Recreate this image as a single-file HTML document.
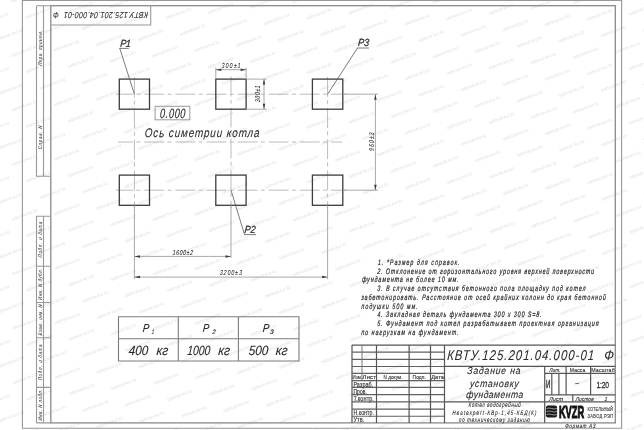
<!DOCTYPE html>
<html><head><meta charset="utf-8">
<style>
html,body{margin:0;padding:0;background:#fff;width:644px;height:430px;overflow:hidden}
svg{display:block;will-change:transform}
text{font-family:"Liberation Sans",sans-serif;font-style:italic;fill:#2a2a2a;stroke:#2a2a2a;stroke-width:0.08px}
.n{font-style:normal}
.th{stroke-width:0.12px}
.fr{stroke:#989898;stroke-width:1.1;fill:none}
.sq{stroke:#3c3c3c;stroke-width:1.3;fill:none}
.cl{stroke:#bbb;stroke-width:1;stroke-dasharray:19.9 3.3 4 3.9;fill:none}
.dm{stroke:#a8a8a8;stroke-width:1;fill:none}
.ld{stroke:#5a5a5a;stroke-width:0.8;fill:none}
.tb{stroke:#555;stroke-width:1.2;fill:none}
.ar{fill:#3a3a3a}
</style></head><body>
<svg width="644" height="430" viewBox="0 0 644 430">
<rect x="0" y="0" width="644" height="430" fill="#fff"/>

<defs><text id="wm" y="1.5" text-anchor="middle" style="font-size:4.3px;font-style:normal;fill:#e0e0e0;stroke:none" textLength="27" lengthAdjust="spacingAndGlyphs">tekhnob-kvz.kz</text></defs>
<g>
<use href="#wm" transform="translate(-16.4 438.0) rotate(-20.8)"/>
<use href="#wm" transform="translate(-16.6 383.5) rotate(-20.8)"/>
<use href="#wm" transform="translate(-2.5 399.9) rotate(-20.8)"/>
<use href="#wm" transform="translate(11.6 416.3) rotate(-20.8)"/>
<use href="#wm" transform="translate(25.7 432.7) rotate(-20.8)"/>
<use href="#wm" transform="translate(-16.8 328.9) rotate(-20.8)"/>
<use href="#wm" transform="translate(-2.7 345.4) rotate(-20.8)"/>
<use href="#wm" transform="translate(11.4 361.8) rotate(-20.8)"/>
<use href="#wm" transform="translate(25.5 378.2) rotate(-20.8)"/>
<use href="#wm" transform="translate(39.6 394.6) rotate(-20.8)"/>
<use href="#wm" transform="translate(53.7 411.0) rotate(-20.8)"/>
<use href="#wm" transform="translate(67.8 427.4) rotate(-20.8)"/>
<use href="#wm" transform="translate(-17.0 274.4) rotate(-20.8)"/>
<use href="#wm" transform="translate(-2.9 290.8) rotate(-20.8)"/>
<use href="#wm" transform="translate(11.2 307.2) rotate(-20.8)"/>
<use href="#wm" transform="translate(25.3 323.6) rotate(-20.8)"/>
<use href="#wm" transform="translate(39.4 340.0) rotate(-20.8)"/>
<use href="#wm" transform="translate(53.5 356.4) rotate(-20.8)"/>
<use href="#wm" transform="translate(67.6 372.9) rotate(-20.8)"/>
<use href="#wm" transform="translate(81.7 389.3) rotate(-20.8)"/>
<use href="#wm" transform="translate(95.8 405.7) rotate(-20.8)"/>
<use href="#wm" transform="translate(109.9 422.1) rotate(-20.8)"/>
<use href="#wm" transform="translate(124.0 438.5) rotate(-20.8)"/>
<use href="#wm" transform="translate(-17.2 219.9) rotate(-20.8)"/>
<use href="#wm" transform="translate(-3.1 236.3) rotate(-20.8)"/>
<use href="#wm" transform="translate(11.0 252.7) rotate(-20.8)"/>
<use href="#wm" transform="translate(25.1 269.1) rotate(-20.8)"/>
<use href="#wm" transform="translate(39.2 285.5) rotate(-20.8)"/>
<use href="#wm" transform="translate(53.3 301.9) rotate(-20.8)"/>
<use href="#wm" transform="translate(67.4 318.3) rotate(-20.8)"/>
<use href="#wm" transform="translate(81.5 334.7) rotate(-20.8)"/>
<use href="#wm" transform="translate(95.6 351.1) rotate(-20.8)"/>
<use href="#wm" transform="translate(109.7 367.6) rotate(-20.8)"/>
<use href="#wm" transform="translate(123.8 384.0) rotate(-20.8)"/>
<use href="#wm" transform="translate(137.9 400.4) rotate(-20.8)"/>
<use href="#wm" transform="translate(152.0 416.8) rotate(-20.8)"/>
<use href="#wm" transform="translate(166.1 433.2) rotate(-20.8)"/>
<use href="#wm" transform="translate(-17.4 165.3) rotate(-20.8)"/>
<use href="#wm" transform="translate(-3.3 181.7) rotate(-20.8)"/>
<use href="#wm" transform="translate(10.8 198.1) rotate(-20.8)"/>
<use href="#wm" transform="translate(24.9 214.6) rotate(-20.8)"/>
<use href="#wm" transform="translate(39.0 231.0) rotate(-20.8)"/>
<use href="#wm" transform="translate(53.1 247.4) rotate(-20.8)"/>
<use href="#wm" transform="translate(67.2 263.8) rotate(-20.8)"/>
<use href="#wm" transform="translate(81.3 280.2) rotate(-20.8)"/>
<use href="#wm" transform="translate(95.4 296.6) rotate(-20.8)"/>
<use href="#wm" transform="translate(109.5 313.0) rotate(-20.8)"/>
<use href="#wm" transform="translate(123.6 329.4) rotate(-20.8)"/>
<use href="#wm" transform="translate(137.7 345.8) rotate(-20.8)"/>
<use href="#wm" transform="translate(151.8 362.2) rotate(-20.8)"/>
<use href="#wm" transform="translate(165.9 378.7) rotate(-20.8)"/>
<use href="#wm" transform="translate(180.0 395.1) rotate(-20.8)"/>
<use href="#wm" transform="translate(194.1 411.5) rotate(-20.8)"/>
<use href="#wm" transform="translate(208.2 427.9) rotate(-20.8)"/>
<use href="#wm" transform="translate(-17.6 110.8) rotate(-20.8)"/>
<use href="#wm" transform="translate(-3.5 127.2) rotate(-20.8)"/>
<use href="#wm" transform="translate(10.6 143.6) rotate(-20.8)"/>
<use href="#wm" transform="translate(24.7 160.0) rotate(-20.8)"/>
<use href="#wm" transform="translate(38.8 176.4) rotate(-20.8)"/>
<use href="#wm" transform="translate(52.9 192.8) rotate(-20.8)"/>
<use href="#wm" transform="translate(67.0 209.2) rotate(-20.8)"/>
<use href="#wm" transform="translate(81.1 225.7) rotate(-20.8)"/>
<use href="#wm" transform="translate(95.2 242.1) rotate(-20.8)"/>
<use href="#wm" transform="translate(109.3 258.5) rotate(-20.8)"/>
<use href="#wm" transform="translate(123.4 274.9) rotate(-20.8)"/>
<use href="#wm" transform="translate(137.5 291.3) rotate(-20.8)"/>
<use href="#wm" transform="translate(151.6 307.7) rotate(-20.8)"/>
<use href="#wm" transform="translate(165.7 324.1) rotate(-20.8)"/>
<use href="#wm" transform="translate(179.8 340.5) rotate(-20.8)"/>
<use href="#wm" transform="translate(193.9 356.9) rotate(-20.8)"/>
<use href="#wm" transform="translate(208.0 373.3) rotate(-20.8)"/>
<use href="#wm" transform="translate(222.1 389.8) rotate(-20.8)"/>
<use href="#wm" transform="translate(236.2 406.2) rotate(-20.8)"/>
<use href="#wm" transform="translate(250.3 422.6) rotate(-20.8)"/>
<use href="#wm" transform="translate(264.4 439.0) rotate(-20.8)"/>
<use href="#wm" transform="translate(-17.8 56.2) rotate(-20.8)"/>
<use href="#wm" transform="translate(-3.7 72.7) rotate(-20.8)"/>
<use href="#wm" transform="translate(10.4 89.1) rotate(-20.8)"/>
<use href="#wm" transform="translate(24.5 105.5) rotate(-20.8)"/>
<use href="#wm" transform="translate(38.6 121.9) rotate(-20.8)"/>
<use href="#wm" transform="translate(52.7 138.3) rotate(-20.8)"/>
<use href="#wm" transform="translate(66.8 154.7) rotate(-20.8)"/>
<use href="#wm" transform="translate(80.9 171.1) rotate(-20.8)"/>
<use href="#wm" transform="translate(95.0 187.5) rotate(-20.8)"/>
<use href="#wm" transform="translate(109.1 203.9) rotate(-20.8)"/>
<use href="#wm" transform="translate(123.2 220.3) rotate(-20.8)"/>
<use href="#wm" transform="translate(137.3 236.8) rotate(-20.8)"/>
<use href="#wm" transform="translate(151.4 253.2) rotate(-20.8)"/>
<use href="#wm" transform="translate(165.5 269.6) rotate(-20.8)"/>
<use href="#wm" transform="translate(179.6 286.0) rotate(-20.8)"/>
<use href="#wm" transform="translate(193.7 302.4) rotate(-20.8)"/>
<use href="#wm" transform="translate(207.8 318.8) rotate(-20.8)"/>
<use href="#wm" transform="translate(221.9 335.2) rotate(-20.8)"/>
<use href="#wm" transform="translate(236.0 351.6) rotate(-20.8)"/>
<use href="#wm" transform="translate(250.1 368.0) rotate(-20.8)"/>
<use href="#wm" transform="translate(264.2 384.4) rotate(-20.8)"/>
<use href="#wm" transform="translate(278.3 400.9) rotate(-20.8)"/>
<use href="#wm" transform="translate(292.4 417.3) rotate(-20.8)"/>
<use href="#wm" transform="translate(306.5 433.7) rotate(-20.8)"/>
<use href="#wm" transform="translate(-18.1 1.7) rotate(-20.8)"/>
<use href="#wm" transform="translate(-4.0 18.1) rotate(-20.8)"/>
<use href="#wm" transform="translate(10.1 34.5) rotate(-20.8)"/>
<use href="#wm" transform="translate(24.2 50.9) rotate(-20.8)"/>
<use href="#wm" transform="translate(38.3 67.3) rotate(-20.8)"/>
<use href="#wm" transform="translate(52.4 83.8) rotate(-20.8)"/>
<use href="#wm" transform="translate(66.5 100.2) rotate(-20.8)"/>
<use href="#wm" transform="translate(80.6 116.6) rotate(-20.8)"/>
<use href="#wm" transform="translate(94.7 133.0) rotate(-20.8)"/>
<use href="#wm" transform="translate(108.8 149.4) rotate(-20.8)"/>
<use href="#wm" transform="translate(122.9 165.8) rotate(-20.8)"/>
<use href="#wm" transform="translate(137.0 182.2) rotate(-20.8)"/>
<use href="#wm" transform="translate(151.1 198.6) rotate(-20.8)"/>
<use href="#wm" transform="translate(165.2 215.0) rotate(-20.8)"/>
<use href="#wm" transform="translate(179.3 231.4) rotate(-20.8)"/>
<use href="#wm" transform="translate(193.4 247.9) rotate(-20.8)"/>
<use href="#wm" transform="translate(207.5 264.3) rotate(-20.8)"/>
<use href="#wm" transform="translate(221.6 280.7) rotate(-20.8)"/>
<use href="#wm" transform="translate(235.7 297.1) rotate(-20.8)"/>
<use href="#wm" transform="translate(249.8 313.5) rotate(-20.8)"/>
<use href="#wm" transform="translate(263.9 329.9) rotate(-20.8)"/>
<use href="#wm" transform="translate(278.0 346.3) rotate(-20.8)"/>
<use href="#wm" transform="translate(292.1 362.7) rotate(-20.8)"/>
<use href="#wm" transform="translate(306.2 379.1) rotate(-20.8)"/>
<use href="#wm" transform="translate(320.3 395.5) rotate(-20.8)"/>
<use href="#wm" transform="translate(334.4 412.0) rotate(-20.8)"/>
<use href="#wm" transform="translate(348.5 428.4) rotate(-20.8)"/>
<use href="#wm" transform="translate(24.0 -3.6) rotate(-20.8)"/>
<use href="#wm" transform="translate(38.1 12.8) rotate(-20.8)"/>
<use href="#wm" transform="translate(52.2 29.2) rotate(-20.8)"/>
<use href="#wm" transform="translate(66.3 45.6) rotate(-20.8)"/>
<use href="#wm" transform="translate(80.4 62.0) rotate(-20.8)"/>
<use href="#wm" transform="translate(94.5 78.4) rotate(-20.8)"/>
<use href="#wm" transform="translate(108.6 94.9) rotate(-20.8)"/>
<use href="#wm" transform="translate(122.7 111.3) rotate(-20.8)"/>
<use href="#wm" transform="translate(136.8 127.7) rotate(-20.8)"/>
<use href="#wm" transform="translate(150.9 144.1) rotate(-20.8)"/>
<use href="#wm" transform="translate(165.0 160.5) rotate(-20.8)"/>
<use href="#wm" transform="translate(179.1 176.9) rotate(-20.8)"/>
<use href="#wm" transform="translate(193.2 193.3) rotate(-20.8)"/>
<use href="#wm" transform="translate(207.3 209.7) rotate(-20.8)"/>
<use href="#wm" transform="translate(221.4 226.1) rotate(-20.8)"/>
<use href="#wm" transform="translate(235.5 242.5) rotate(-20.8)"/>
<use href="#wm" transform="translate(249.6 259.0) rotate(-20.8)"/>
<use href="#wm" transform="translate(263.7 275.4) rotate(-20.8)"/>
<use href="#wm" transform="translate(277.8 291.8) rotate(-20.8)"/>
<use href="#wm" transform="translate(291.9 308.2) rotate(-20.8)"/>
<use href="#wm" transform="translate(306.0 324.6) rotate(-20.8)"/>
<use href="#wm" transform="translate(320.1 341.0) rotate(-20.8)"/>
<use href="#wm" transform="translate(334.2 357.4) rotate(-20.8)"/>
<use href="#wm" transform="translate(348.3 373.8) rotate(-20.8)"/>
<use href="#wm" transform="translate(362.4 390.2) rotate(-20.8)"/>
<use href="#wm" transform="translate(376.5 406.6) rotate(-20.8)"/>
<use href="#wm" transform="translate(390.6 423.1) rotate(-20.8)"/>
<use href="#wm" transform="translate(404.7 439.5) rotate(-20.8)"/>
<use href="#wm" transform="translate(66.1 -8.9) rotate(-20.8)"/>
<use href="#wm" transform="translate(80.2 7.5) rotate(-20.8)"/>
<use href="#wm" transform="translate(94.3 23.9) rotate(-20.8)"/>
<use href="#wm" transform="translate(108.4 40.3) rotate(-20.8)"/>
<use href="#wm" transform="translate(122.5 56.7) rotate(-20.8)"/>
<use href="#wm" transform="translate(136.6 73.1) rotate(-20.8)"/>
<use href="#wm" transform="translate(150.7 89.5) rotate(-20.8)"/>
<use href="#wm" transform="translate(164.8 106.0) rotate(-20.8)"/>
<use href="#wm" transform="translate(178.9 122.4) rotate(-20.8)"/>
<use href="#wm" transform="translate(193.0 138.8) rotate(-20.8)"/>
<use href="#wm" transform="translate(207.1 155.2) rotate(-20.8)"/>
<use href="#wm" transform="translate(221.2 171.6) rotate(-20.8)"/>
<use href="#wm" transform="translate(235.3 188.0) rotate(-20.8)"/>
<use href="#wm" transform="translate(249.4 204.4) rotate(-20.8)"/>
<use href="#wm" transform="translate(263.5 220.8) rotate(-20.8)"/>
<use href="#wm" transform="translate(277.6 237.2) rotate(-20.8)"/>
<use href="#wm" transform="translate(291.7 253.6) rotate(-20.8)"/>
<use href="#wm" transform="translate(305.8 270.1) rotate(-20.8)"/>
<use href="#wm" transform="translate(319.9 286.5) rotate(-20.8)"/>
<use href="#wm" transform="translate(334.0 302.9) rotate(-20.8)"/>
<use href="#wm" transform="translate(348.1 319.3) rotate(-20.8)"/>
<use href="#wm" transform="translate(362.2 335.7) rotate(-20.8)"/>
<use href="#wm" transform="translate(376.3 352.1) rotate(-20.8)"/>
<use href="#wm" transform="translate(390.4 368.5) rotate(-20.8)"/>
<use href="#wm" transform="translate(404.5 384.9) rotate(-20.8)"/>
<use href="#wm" transform="translate(418.6 401.3) rotate(-20.8)"/>
<use href="#wm" transform="translate(432.7 417.7) rotate(-20.8)"/>
<use href="#wm" transform="translate(446.8 434.2) rotate(-20.8)"/>
<use href="#wm" transform="translate(122.3 2.2) rotate(-20.8)"/>
<use href="#wm" transform="translate(136.4 18.6) rotate(-20.8)"/>
<use href="#wm" transform="translate(150.5 35.0) rotate(-20.8)"/>
<use href="#wm" transform="translate(164.6 51.4) rotate(-20.8)"/>
<use href="#wm" transform="translate(178.7 67.8) rotate(-20.8)"/>
<use href="#wm" transform="translate(192.8 84.2) rotate(-20.8)"/>
<use href="#wm" transform="translate(206.9 100.6) rotate(-20.8)"/>
<use href="#wm" transform="translate(221.0 117.1) rotate(-20.8)"/>
<use href="#wm" transform="translate(235.1 133.5) rotate(-20.8)"/>
<use href="#wm" transform="translate(249.2 149.9) rotate(-20.8)"/>
<use href="#wm" transform="translate(263.3 166.3) rotate(-20.8)"/>
<use href="#wm" transform="translate(277.4 182.7) rotate(-20.8)"/>
<use href="#wm" transform="translate(291.5 199.1) rotate(-20.8)"/>
<use href="#wm" transform="translate(305.6 215.5) rotate(-20.8)"/>
<use href="#wm" transform="translate(319.7 231.9) rotate(-20.8)"/>
<use href="#wm" transform="translate(333.8 248.3) rotate(-20.8)"/>
<use href="#wm" transform="translate(347.9 264.7) rotate(-20.8)"/>
<use href="#wm" transform="translate(362.0 281.2) rotate(-20.8)"/>
<use href="#wm" transform="translate(376.1 297.6) rotate(-20.8)"/>
<use href="#wm" transform="translate(390.2 314.0) rotate(-20.8)"/>
<use href="#wm" transform="translate(404.3 330.4) rotate(-20.8)"/>
<use href="#wm" transform="translate(418.4 346.8) rotate(-20.8)"/>
<use href="#wm" transform="translate(432.5 363.2) rotate(-20.8)"/>
<use href="#wm" transform="translate(446.6 379.6) rotate(-20.8)"/>
<use href="#wm" transform="translate(460.7 396.0) rotate(-20.8)"/>
<use href="#wm" transform="translate(474.8 412.4) rotate(-20.8)"/>
<use href="#wm" transform="translate(488.9 428.8) rotate(-20.8)"/>
<use href="#wm" transform="translate(164.4 -3.1) rotate(-20.8)"/>
<use href="#wm" transform="translate(178.5 13.3) rotate(-20.8)"/>
<use href="#wm" transform="translate(192.6 29.7) rotate(-20.8)"/>
<use href="#wm" transform="translate(206.7 46.1) rotate(-20.8)"/>
<use href="#wm" transform="translate(220.8 62.5) rotate(-20.8)"/>
<use href="#wm" transform="translate(234.9 78.9) rotate(-20.8)"/>
<use href="#wm" transform="translate(249.0 95.3) rotate(-20.8)"/>
<use href="#wm" transform="translate(263.1 111.7) rotate(-20.8)"/>
<use href="#wm" transform="translate(277.2 128.2) rotate(-20.8)"/>
<use href="#wm" transform="translate(291.3 144.6) rotate(-20.8)"/>
<use href="#wm" transform="translate(305.4 161.0) rotate(-20.8)"/>
<use href="#wm" transform="translate(319.5 177.4) rotate(-20.8)"/>
<use href="#wm" transform="translate(333.6 193.8) rotate(-20.8)"/>
<use href="#wm" transform="translate(347.7 210.2) rotate(-20.8)"/>
<use href="#wm" transform="translate(361.8 226.6) rotate(-20.8)"/>
<use href="#wm" transform="translate(375.9 243.0) rotate(-20.8)"/>
<use href="#wm" transform="translate(390.0 259.4) rotate(-20.8)"/>
<use href="#wm" transform="translate(404.1 275.8) rotate(-20.8)"/>
<use href="#wm" transform="translate(418.2 292.2) rotate(-20.8)"/>
<use href="#wm" transform="translate(432.3 308.7) rotate(-20.8)"/>
<use href="#wm" transform="translate(446.4 325.1) rotate(-20.8)"/>
<use href="#wm" transform="translate(460.5 341.5) rotate(-20.8)"/>
<use href="#wm" transform="translate(474.6 357.9) rotate(-20.8)"/>
<use href="#wm" transform="translate(488.7 374.3) rotate(-20.8)"/>
<use href="#wm" transform="translate(502.8 390.7) rotate(-20.8)"/>
<use href="#wm" transform="translate(516.9 407.1) rotate(-20.8)"/>
<use href="#wm" transform="translate(531.0 423.5) rotate(-20.8)"/>
<use href="#wm" transform="translate(545.1 439.9) rotate(-20.8)"/>
<use href="#wm" transform="translate(206.5 -8.4) rotate(-20.8)"/>
<use href="#wm" transform="translate(220.6 8.0) rotate(-20.8)"/>
<use href="#wm" transform="translate(234.7 24.4) rotate(-20.8)"/>
<use href="#wm" transform="translate(248.8 40.8) rotate(-20.8)"/>
<use href="#wm" transform="translate(262.9 57.2) rotate(-20.8)"/>
<use href="#wm" transform="translate(277.0 73.6) rotate(-20.8)"/>
<use href="#wm" transform="translate(291.1 90.0) rotate(-20.8)"/>
<use href="#wm" transform="translate(305.2 106.4) rotate(-20.8)"/>
<use href="#wm" transform="translate(319.3 122.8) rotate(-20.8)"/>
<use href="#wm" transform="translate(333.4 139.2) rotate(-20.8)"/>
<use href="#wm" transform="translate(347.5 155.7) rotate(-20.8)"/>
<use href="#wm" transform="translate(361.6 172.1) rotate(-20.8)"/>
<use href="#wm" transform="translate(375.7 188.5) rotate(-20.8)"/>
<use href="#wm" transform="translate(389.8 204.9) rotate(-20.8)"/>
<use href="#wm" transform="translate(403.9 221.3) rotate(-20.8)"/>
<use href="#wm" transform="translate(418.0 237.7) rotate(-20.8)"/>
<use href="#wm" transform="translate(432.1 254.1) rotate(-20.8)"/>
<use href="#wm" transform="translate(446.2 270.5) rotate(-20.8)"/>
<use href="#wm" transform="translate(460.3 286.9) rotate(-20.8)"/>
<use href="#wm" transform="translate(474.4 303.4) rotate(-20.8)"/>
<use href="#wm" transform="translate(488.5 319.8) rotate(-20.8)"/>
<use href="#wm" transform="translate(502.6 336.2) rotate(-20.8)"/>
<use href="#wm" transform="translate(516.7 352.6) rotate(-20.8)"/>
<use href="#wm" transform="translate(530.8 369.0) rotate(-20.8)"/>
<use href="#wm" transform="translate(544.9 385.4) rotate(-20.8)"/>
<use href="#wm" transform="translate(559.0 401.8) rotate(-20.8)"/>
<use href="#wm" transform="translate(573.1 418.2) rotate(-20.8)"/>
<use href="#wm" transform="translate(587.2 434.6) rotate(-20.8)"/>
<use href="#wm" transform="translate(262.7 2.7) rotate(-20.8)"/>
<use href="#wm" transform="translate(276.8 19.1) rotate(-20.8)"/>
<use href="#wm" transform="translate(290.9 35.5) rotate(-20.8)"/>
<use href="#wm" transform="translate(305.0 51.9) rotate(-20.8)"/>
<use href="#wm" transform="translate(319.1 68.3) rotate(-20.8)"/>
<use href="#wm" transform="translate(333.2 84.7) rotate(-20.8)"/>
<use href="#wm" transform="translate(347.3 101.1) rotate(-20.8)"/>
<use href="#wm" transform="translate(361.4 117.5) rotate(-20.8)"/>
<use href="#wm" transform="translate(375.5 133.9) rotate(-20.8)"/>
<use href="#wm" transform="translate(389.6 150.4) rotate(-20.8)"/>
<use href="#wm" transform="translate(403.7 166.8) rotate(-20.8)"/>
<use href="#wm" transform="translate(417.8 183.2) rotate(-20.8)"/>
<use href="#wm" transform="translate(431.9 199.6) rotate(-20.8)"/>
<use href="#wm" transform="translate(446.0 216.0) rotate(-20.8)"/>
<use href="#wm" transform="translate(460.1 232.4) rotate(-20.8)"/>
<use href="#wm" transform="translate(474.2 248.8) rotate(-20.8)"/>
<use href="#wm" transform="translate(488.3 265.2) rotate(-20.8)"/>
<use href="#wm" transform="translate(502.4 281.6) rotate(-20.8)"/>
<use href="#wm" transform="translate(516.5 298.0) rotate(-20.8)"/>
<use href="#wm" transform="translate(530.6 314.5) rotate(-20.8)"/>
<use href="#wm" transform="translate(544.7 330.9) rotate(-20.8)"/>
<use href="#wm" transform="translate(558.8 347.3) rotate(-20.8)"/>
<use href="#wm" transform="translate(572.9 363.7) rotate(-20.8)"/>
<use href="#wm" transform="translate(587.0 380.1) rotate(-20.8)"/>
<use href="#wm" transform="translate(601.1 396.5) rotate(-20.8)"/>
<use href="#wm" transform="translate(615.2 412.9) rotate(-20.8)"/>
<use href="#wm" transform="translate(629.3 429.3) rotate(-20.8)"/>
<use href="#wm" transform="translate(304.8 -2.7) rotate(-20.8)"/>
<use href="#wm" transform="translate(318.9 13.8) rotate(-20.8)"/>
<use href="#wm" transform="translate(333.0 30.2) rotate(-20.8)"/>
<use href="#wm" transform="translate(347.1 46.6) rotate(-20.8)"/>
<use href="#wm" transform="translate(361.2 63.0) rotate(-20.8)"/>
<use href="#wm" transform="translate(375.3 79.4) rotate(-20.8)"/>
<use href="#wm" transform="translate(389.4 95.8) rotate(-20.8)"/>
<use href="#wm" transform="translate(403.5 112.2) rotate(-20.8)"/>
<use href="#wm" transform="translate(417.6 128.6) rotate(-20.8)"/>
<use href="#wm" transform="translate(431.7 145.0) rotate(-20.8)"/>
<use href="#wm" transform="translate(445.8 161.4) rotate(-20.8)"/>
<use href="#wm" transform="translate(459.9 177.9) rotate(-20.8)"/>
<use href="#wm" transform="translate(474.0 194.3) rotate(-20.8)"/>
<use href="#wm" transform="translate(488.1 210.7) rotate(-20.8)"/>
<use href="#wm" transform="translate(502.2 227.1) rotate(-20.8)"/>
<use href="#wm" transform="translate(516.3 243.5) rotate(-20.8)"/>
<use href="#wm" transform="translate(530.4 259.9) rotate(-20.8)"/>
<use href="#wm" transform="translate(544.5 276.3) rotate(-20.8)"/>
<use href="#wm" transform="translate(558.6 292.7) rotate(-20.8)"/>
<use href="#wm" transform="translate(572.7 309.1) rotate(-20.8)"/>
<use href="#wm" transform="translate(586.8 325.6) rotate(-20.8)"/>
<use href="#wm" transform="translate(600.9 342.0) rotate(-20.8)"/>
<use href="#wm" transform="translate(615.0 358.4) rotate(-20.8)"/>
<use href="#wm" transform="translate(629.1 374.8) rotate(-20.8)"/>
<use href="#wm" transform="translate(643.2 391.2) rotate(-20.8)"/>
<use href="#wm" transform="translate(657.3 407.6) rotate(-20.8)"/>
<use href="#wm" transform="translate(346.9 -8.0) rotate(-20.8)"/>
<use href="#wm" transform="translate(361.0 8.4) rotate(-20.8)"/>
<use href="#wm" transform="translate(375.1 24.9) rotate(-20.8)"/>
<use href="#wm" transform="translate(389.2 41.3) rotate(-20.8)"/>
<use href="#wm" transform="translate(403.3 57.7) rotate(-20.8)"/>
<use href="#wm" transform="translate(417.4 74.1) rotate(-20.8)"/>
<use href="#wm" transform="translate(431.5 90.5) rotate(-20.8)"/>
<use href="#wm" transform="translate(445.6 106.9) rotate(-20.8)"/>
<use href="#wm" transform="translate(459.7 123.3) rotate(-20.8)"/>
<use href="#wm" transform="translate(473.8 139.7) rotate(-20.8)"/>
<use href="#wm" transform="translate(487.9 156.1) rotate(-20.8)"/>
<use href="#wm" transform="translate(502.0 172.6) rotate(-20.8)"/>
<use href="#wm" transform="translate(516.1 189.0) rotate(-20.8)"/>
<use href="#wm" transform="translate(530.2 205.4) rotate(-20.8)"/>
<use href="#wm" transform="translate(544.3 221.8) rotate(-20.8)"/>
<use href="#wm" transform="translate(558.4 238.2) rotate(-20.8)"/>
<use href="#wm" transform="translate(572.5 254.6) rotate(-20.8)"/>
<use href="#wm" transform="translate(586.6 271.0) rotate(-20.8)"/>
<use href="#wm" transform="translate(600.7 287.4) rotate(-20.8)"/>
<use href="#wm" transform="translate(614.8 303.8) rotate(-20.8)"/>
<use href="#wm" transform="translate(628.9 320.2) rotate(-20.8)"/>
<use href="#wm" transform="translate(643.0 336.6) rotate(-20.8)"/>
<use href="#wm" transform="translate(657.1 353.1) rotate(-20.8)"/>
<use href="#wm" transform="translate(403.1 3.1) rotate(-20.8)"/>
<use href="#wm" transform="translate(417.2 19.6) rotate(-20.8)"/>
<use href="#wm" transform="translate(431.3 36.0) rotate(-20.8)"/>
<use href="#wm" transform="translate(445.4 52.4) rotate(-20.8)"/>
<use href="#wm" transform="translate(459.5 68.8) rotate(-20.8)"/>
<use href="#wm" transform="translate(473.6 85.2) rotate(-20.8)"/>
<use href="#wm" transform="translate(487.7 101.6) rotate(-20.8)"/>
<use href="#wm" transform="translate(501.8 118.0) rotate(-20.8)"/>
<use href="#wm" transform="translate(515.9 134.4) rotate(-20.8)"/>
<use href="#wm" transform="translate(530.0 150.8) rotate(-20.8)"/>
<use href="#wm" transform="translate(544.1 167.2) rotate(-20.8)"/>
<use href="#wm" transform="translate(558.2 183.7) rotate(-20.8)"/>
<use href="#wm" transform="translate(572.3 200.1) rotate(-20.8)"/>
<use href="#wm" transform="translate(586.4 216.5) rotate(-20.8)"/>
<use href="#wm" transform="translate(600.5 232.9) rotate(-20.8)"/>
<use href="#wm" transform="translate(614.6 249.3) rotate(-20.8)"/>
<use href="#wm" transform="translate(628.7 265.7) rotate(-20.8)"/>
<use href="#wm" transform="translate(642.8 282.1) rotate(-20.8)"/>
<use href="#wm" transform="translate(656.9 298.5) rotate(-20.8)"/>
<use href="#wm" transform="translate(445.2 -2.2) rotate(-20.8)"/>
<use href="#wm" transform="translate(459.2 14.2) rotate(-20.8)"/>
<use href="#wm" transform="translate(473.4 30.7) rotate(-20.8)"/>
<use href="#wm" transform="translate(487.5 47.1) rotate(-20.8)"/>
<use href="#wm" transform="translate(501.6 63.5) rotate(-20.8)"/>
<use href="#wm" transform="translate(515.6 79.9) rotate(-20.8)"/>
<use href="#wm" transform="translate(529.8 96.3) rotate(-20.8)"/>
<use href="#wm" transform="translate(543.9 112.7) rotate(-20.8)"/>
<use href="#wm" transform="translate(558.0 129.1) rotate(-20.8)"/>
<use href="#wm" transform="translate(572.1 145.5) rotate(-20.8)"/>
<use href="#wm" transform="translate(586.1 161.9) rotate(-20.8)"/>
<use href="#wm" transform="translate(600.2 178.3) rotate(-20.8)"/>
<use href="#wm" transform="translate(614.4 194.8) rotate(-20.8)"/>
<use href="#wm" transform="translate(628.5 211.2) rotate(-20.8)"/>
<use href="#wm" transform="translate(642.6 227.6) rotate(-20.8)"/>
<use href="#wm" transform="translate(656.6 244.0) rotate(-20.8)"/>
<use href="#wm" transform="translate(487.2 -7.5) rotate(-20.8)"/>
<use href="#wm" transform="translate(501.3 8.9) rotate(-20.8)"/>
<use href="#wm" transform="translate(515.4 25.3) rotate(-20.8)"/>
<use href="#wm" transform="translate(529.5 41.8) rotate(-20.8)"/>
<use href="#wm" transform="translate(543.6 58.2) rotate(-20.8)"/>
<use href="#wm" transform="translate(557.7 74.6) rotate(-20.8)"/>
<use href="#wm" transform="translate(571.8 91.0) rotate(-20.8)"/>
<use href="#wm" transform="translate(585.9 107.4) rotate(-20.8)"/>
<use href="#wm" transform="translate(600.0 123.8) rotate(-20.8)"/>
<use href="#wm" transform="translate(614.1 140.2) rotate(-20.8)"/>
<use href="#wm" transform="translate(628.2 156.6) rotate(-20.8)"/>
<use href="#wm" transform="translate(642.3 173.0) rotate(-20.8)"/>
<use href="#wm" transform="translate(656.4 189.4) rotate(-20.8)"/>
<use href="#wm" transform="translate(543.4 3.6) rotate(-20.8)"/>
<use href="#wm" transform="translate(557.5 20.0) rotate(-20.8)"/>
<use href="#wm" transform="translate(571.6 36.4) rotate(-20.8)"/>
<use href="#wm" transform="translate(585.7 52.9) rotate(-20.8)"/>
<use href="#wm" transform="translate(599.8 69.3) rotate(-20.8)"/>
<use href="#wm" transform="translate(613.9 85.7) rotate(-20.8)"/>
<use href="#wm" transform="translate(628.0 102.1) rotate(-20.8)"/>
<use href="#wm" transform="translate(642.1 118.5) rotate(-20.8)"/>
<use href="#wm" transform="translate(656.2 134.9) rotate(-20.8)"/>
<use href="#wm" transform="translate(585.5 -1.7) rotate(-20.8)"/>
<use href="#wm" transform="translate(599.6 14.7) rotate(-20.8)"/>
<use href="#wm" transform="translate(613.7 31.1) rotate(-20.8)"/>
<use href="#wm" transform="translate(627.8 47.5) rotate(-20.8)"/>
<use href="#wm" transform="translate(641.9 64.0) rotate(-20.8)"/>
<use href="#wm" transform="translate(656.0 80.4) rotate(-20.8)"/>
<use href="#wm" transform="translate(627.6 -7.0) rotate(-20.8)"/>
<use href="#wm" transform="translate(641.7 9.4) rotate(-20.8)"/>
<use href="#wm" transform="translate(655.8 25.8) rotate(-20.8)"/>
</g>
<path class="fr" d="M22.4 0.4H621.6M22.4 0V428.3H621.6V0"/>
<rect class="fr" x="50.8" y="5.7" width="564.5" height="417.2" style="stroke:#8a8a8a;stroke-width:1.3"/>
<path class="fr" d="M36.5 5.7V176.3H50.8M43.5 5.7V176.3M36.5 5.7H50.8"/>
<path class="fr" d="M50.8 216.3H36.5V422.9M43.5 216.3V422.9M36.5 266.3H50.8M36.5 302.5H50.8M36.5 337.7H50.8M36.5 387.4H50.8M36.5 422.9H50.8"/>
<text transform="translate(41.70 65.80) rotate(-90) scale(0.8 1) skewX(-5)" style="font-size:5.2px;fill:#333;stroke:#333;stroke-width:0.05px" class="th" textLength="43.75" lengthAdjust="spacing">Перв. примен.</text>
<text transform="translate(41.70 149.30) rotate(-90) scale(0.8 1) skewX(-5)" style="font-size:5.2px;fill:#333;stroke:#333;stroke-width:0.05px" class="th" textLength="29.50" lengthAdjust="spacing">Справ. N</text>
<text transform="translate(41.70 257.45) rotate(-90) scale(0.8 1) skewX(-5)" style="font-size:5.2px;fill:#333;stroke:#333;stroke-width:0.05px" class="th" textLength="44.38" lengthAdjust="spacing">Подп. и дата</text>
<text transform="translate(41.70 299.90) rotate(-90) scale(0.8 1) skewX(-5)" style="font-size:5.2px;fill:#333;stroke:#333;stroke-width:0.05px" class="th" textLength="38.75" lengthAdjust="spacing">Инв. N дубл.</text>
<text transform="translate(41.70 335.60) rotate(-90) scale(0.8 1) skewX(-5)" style="font-size:5.2px;fill:#333;stroke:#333;stroke-width:0.05px" class="th" textLength="38.75" lengthAdjust="spacing">Взам. инв. N</text>
<text transform="translate(41.70 380.25) rotate(-90) scale(0.8 1) skewX(-5)" style="font-size:5.2px;fill:#333;stroke:#333;stroke-width:0.05px" class="th" textLength="44.38" lengthAdjust="spacing">Подп. и дата</text>
<text transform="translate(41.70 420.60) rotate(-90) scale(0.8 1) skewX(-5)" style="font-size:5.2px;fill:#333;stroke:#333;stroke-width:0.05px" class="th" textLength="38.75" lengthAdjust="spacing">Инв. N подл.</text>
<path class="fr" d="M50.8 25H150.7V5.7"/>
<g transform="rotate(180 101 15.35)">
<text transform="translate(53.80 18.40) scale(0.8 1) skewX(-5)" style="font-size:8.8px;" textLength="105.25" lengthAdjust="spacing">КВТУ.125.201.04.000-01</text>
<text transform="translate(143.10 18.40) scale(0.8 1) skewX(-5)" style="font-size:8.8px;">Ф</text>
</g>
<path class="cl" d="M116 94.2H346M116 190.2H346" style="stroke-dashoffset:2.8"/>
<path class="cl" d="M118.1 142H342" style="stroke-dashoffset:4.9"/>
<path class="cl" d="M134.4 77.4V208M231 76.5V208M327.6 77V208"/>
<g class="sq">
<rect x="119.3" y="79.1" width="30.2" height="30.1"/>
<rect x="215.8" y="79.1" width="30.3" height="30.1"/>
<rect x="312.4" y="79.1" width="30.4" height="30.1"/>
<rect x="119.3" y="175.1" width="30.2" height="30.2"/>
<rect x="215.8" y="175.1" width="30.3" height="30.2"/>
<rect x="312.4" y="175.1" width="30.4" height="30.2"/>
</g>
<g class="dm">
<path d="M215.8 79V67.5M246.1 79V67.5M215.8 69.7H246.1"/>
<path d="M246.1 79.1H266.5M246.1 109.2H266.5M264 79.1V109.2"/>
<path d="M342.8 94.2H378M342.8 190.2H378M375.4 94.2V190.2"/>
<path d="M134.4 205.3V279M231 205.3V258M327.6 205.3V279M134.4 256.4H231M134.4 277.1H327.6"/>
</g>
<g class="ar">
<path d="M215.8 69.7l5.5 -1.25v2.5zM246.1 69.7l-5.5 -1.25v2.5z"/>
<path d="M264 79.1l-1.25 5.5h2.5zM264 109.2l-1.25 -5.5h2.5z"/>
<path d="M375.4 94.2l-1.25 5.5h2.5zM375.4 190.2l-1.25 -5.5h2.5z"/>
<path d="M134.4 256.4l5.5 -1.25v2.5zM231 256.4l-5.5 -1.25v2.5z"/>
<path d="M134.4 277.1l5.5 -1.25v2.5zM327.6 277.1l-5.5 -1.25v2.5z"/>
</g>
<text transform="translate(221.60 67.90) scale(0.72 1) skewX(-5)" style="font-size:7.2px;" textLength="26.25" lengthAdjust="spacing">300±1</text>
<text transform="translate(260.40 102.20) rotate(-90) scale(0.72 1) skewX(-5)" style="font-size:7.2px;" textLength="23.19" lengthAdjust="spacing">300±1</text>
<text transform="translate(373.50 150.90) rotate(-90) scale(0.72 1) skewX(-5)" style="font-size:7.2px;" textLength="25.42" lengthAdjust="spacing">960±3</text>
<text transform="translate(172.50 254.50) scale(0.72 1) skewX(-5)" style="font-size:7.2px;" textLength="28.47" lengthAdjust="spacing">1600±2</text>
<text transform="translate(219.70 274.80) scale(0.72 1) skewX(-5)" style="font-size:7.2px;" textLength="30.69" lengthAdjust="spacing">3200±3</text>
<path class="ld" d="M119.3 48.4H128.8M119.8 48.4L134.4 94.2"/>
<path class="ld" d="M357 48H369M357.5 48L327.6 94.2"/>
<path class="ld" d="M244 234.6H256M244.5 234.6L231 190.2"/>
<text transform="translate(119.90 46.50) scale(0.9 1) skewX(-5)" style="font-size:10.4px;stroke-width:0.2px" textLength="12.11" lengthAdjust="spacing">P1</text>
<text transform="translate(357.70 46.20) scale(0.9 1) skewX(-5)" style="font-size:10.4px;stroke-width:0.2px" textLength="12.44" lengthAdjust="spacing">P3</text>
<text transform="translate(244.30 232.70) scale(0.9 1) skewX(-5)" style="font-size:10.4px;stroke-width:0.2px" textLength="12.44" lengthAdjust="spacing">P2</text>
<rect x="155.1" y="106.3" width="34.7" height="13.5" fill="none" stroke="#9a9a9a" stroke-width="1"/>
<text transform="translate(159.80 117.60) scale(0.68 1) skewX(-5)" style="font-size:13.4px;stroke-width:0.15px" textLength="37.35" lengthAdjust="spacing">0.000</text>
<text transform="translate(144.50 136.90) scale(0.8 1) skewX(-5)" style="font-size:12.4px;stroke-width:0.08px" textLength="143.50" lengthAdjust="spacing">Ось  симетрии  котла</text>
<text transform="translate(377.70 265.10) scale(0.66 1) skewX(-5)" style="font-size:8.0px;stroke-width:0.2px;fill:#222;stroke:#222" textLength="123.94" lengthAdjust="spacing">1.  *Размер для справок.</text>
<text transform="translate(377.20 273.79) scale(0.66 1) skewX(-5)" style="font-size:8.0px;stroke-width:0.2px;fill:#222;stroke:#222" textLength="328.48" lengthAdjust="spacing">2.  Отклонение от горизонтального уровня верхней поверхности</text>
<text transform="translate(361.90 282.48) scale(0.66 1) skewX(-5)" style="font-size:8.0px;stroke-width:0.2px;fill:#222;stroke:#222" textLength="146.36" lengthAdjust="spacing">фундамента не более  10  мм.</text>
<text transform="translate(377.20 291.17) scale(0.66 1) skewX(-5)" style="font-size:8.0px;stroke-width:0.2px;fill:#222;stroke:#222" textLength="315.45" lengthAdjust="spacing">3.  В случае отсутствия бетонного пола площадку под котел</text>
<text transform="translate(361.20 299.86) scale(0.66 1) skewX(-5)" style="font-size:8.0px;stroke-width:0.2px;fill:#222;stroke:#222" textLength="370.30" lengthAdjust="spacing">забетонировать. Расстояние от осей крайних колонн до края бетонной</text>
<text transform="translate(361.20 308.55) scale(0.66 1) skewX(-5)" style="font-size:8.0px;stroke-width:0.2px;fill:#222;stroke:#222" textLength="85.45" lengthAdjust="spacing">подушки 500  мм.</text>
<text transform="translate(377.20 317.24) scale(0.66 1) skewX(-5)" style="font-size:8.0px;stroke-width:0.2px;fill:#222;stroke:#222" textLength="248.94" lengthAdjust="spacing">4.  Закладная деталь фундамента  300 x 300  S=8.</text>
<text transform="translate(377.20 325.93) scale(0.66 1) skewX(-5)" style="font-size:8.0px;stroke-width:0.2px;fill:#222;stroke:#222" textLength="335.30" lengthAdjust="spacing">5.  Фундамент под котел разрабатывает проектная организация</text>
<text transform="translate(361.20 334.62) scale(0.66 1) skewX(-5)" style="font-size:8.0px;stroke-width:0.2px;fill:#222;stroke:#222" textLength="147.42" lengthAdjust="spacing">по нагрузкам на фундамент.</text>
<path class="tb" style="stroke:#7c7c7c;stroke-width:1.1" d="M118.5 316.7H299V361H118.5ZM118.5 338.7H299M178.3 316.7V361M238.4 316.7V361"/>
<text transform="translate(142.60 331.70) scale(0.85 1) skewX(-5)" style="font-size:11.6px;stroke-width:0.1px" textLength="7.88" lengthAdjust="spacing">P</text>
<text transform="translate(151.40 333.60) scale(0.85 1) skewX(-5)" style="font-size:6.4px;" textLength="3.06" lengthAdjust="spacingAndGlyphs">1</text>
<text transform="translate(202.40 331.70) scale(0.85 1) skewX(-5)" style="font-size:11.6px;stroke-width:0.1px" textLength="7.88" lengthAdjust="spacing">P</text>
<text transform="translate(212.20 333.60) scale(0.85 1) skewX(-5)" style="font-size:6.4px;" textLength="4.00" lengthAdjust="spacingAndGlyphs">2</text>
<text transform="translate(262.50 331.70) scale(0.85 1) skewX(-5)" style="font-size:11.6px;stroke-width:0.1px" textLength="7.88" lengthAdjust="spacing">P</text>
<text transform="translate(269.60 333.60) scale(0.85 1) skewX(-5)" style="font-size:6.4px;" textLength="4.82" lengthAdjust="spacingAndGlyphs">3</text>
<text transform="translate(128.60 355.40) scale(0.8 1) skewX(-5)" style="font-size:13.4px;stroke-width:0.1px" textLength="24.25" lengthAdjust="spacingAndGlyphs">400</text>
<text transform="translate(156.20 355.40) scale(0.8 1) skewX(-5)" style="font-size:13.4px;stroke-width:0.1px" textLength="14.75" lengthAdjust="spacingAndGlyphs">кг</text>
<text transform="translate(187.00 355.40) scale(0.8 1) skewX(-5)" style="font-size:13.4px;stroke-width:0.1px" textLength="28.75" lengthAdjust="spacingAndGlyphs">1000</text>
<text transform="translate(218.00 355.40) scale(0.8 1) skewX(-5)" style="font-size:13.4px;stroke-width:0.1px" textLength="15.00" lengthAdjust="spacingAndGlyphs">кг</text>
<text transform="translate(248.60 355.40) scale(0.8 1) skewX(-5)" style="font-size:13.4px;stroke-width:0.1px" textLength="24.38" lengthAdjust="spacingAndGlyphs">500</text>
<text transform="translate(275.40 355.40) scale(0.8 1) skewX(-5)" style="font-size:13.4px;stroke-width:0.1px" textLength="15.00" lengthAdjust="spacingAndGlyphs">кг</text>
<g class="tb">
<path d="M352 345.1H615.3M352 345.1V422.9"/>
<path style="stroke:#606060;stroke-width:1.1" d="M352 352.1H444.8M352 359.4H444.8M352 366.5H444.8M352 373.4H444.8M352 380.6H444.8M352 387.4H444.8M352 394.6H444.8M352 401.9H444.8M352 409.1H444.8M352 416.3H444.8"/>
<path style="stroke:#777;stroke-width:1" d="M362 345.1V380.6"/><path d="M376.5 345.1V422.9M409.1 345.1V422.9M430.5 345.1V422.9M444.5 345.1V422.9"/>
<path d="M444.8 366.4H615.3M544.7 366.4V422.9M544.7 373.3H615.3M551.8 373.3V394.8M558.9 373.3V394.8M566.1 366.4V394.8M590.6 366.4V394.8M544.7 394.8H615.3M444.8 401.9H615.3M572.8 394.8V401.9"/>
</g>
<text transform="translate(352.40 379.40) scale(0.739 1)" style="font-size:6.0px;fill:#2a2a2a;stroke:#2a2a2a" class="n th" textLength="13.26" lengthAdjust="spacing">Изм.</text>
<text transform="translate(362.60 379.40) scale(0.997 1)" style="font-size:6.0px;fill:#2a2a2a;stroke:#2a2a2a" class="n th" textLength="13.44" lengthAdjust="spacing">Лист</text>
<text transform="translate(383.50 379.40) scale(0.76 1)" style="font-size:6.0px;fill:#2a2a2a;stroke:#2a2a2a" class="n th" textLength="25.00" lengthAdjust="spacing">N докум.</text>
<text transform="translate(412.50 379.40) scale(0.822 1)" style="font-size:6.0px;fill:#2a2a2a;stroke:#2a2a2a" class="n th" textLength="16.42" lengthAdjust="spacing">Подп.</text>
<text transform="translate(431.20 379.40) scale(0.935 1)" style="font-size:6.0px;fill:#2a2a2a;stroke:#2a2a2a" class="n th" textLength="13.69" lengthAdjust="spacing">Дата</text>
<text transform="translate(353.40 386.70) scale(0.834 1)" style="font-size:6.4px;fill:#2a2a2a;stroke:#2a2a2a" class="n th" textLength="23.74" lengthAdjust="spacing">Разраб.</text>
<text transform="translate(353.40 393.80) scale(0.775 1)" style="font-size:6.4px;fill:#2a2a2a;stroke:#2a2a2a" class="n th" textLength="17.42" lengthAdjust="spacing">Пров.</text>
<text transform="translate(353.40 401.00) scale(0.857 1)" style="font-size:6.4px;fill:#2a2a2a;stroke:#2a2a2a" class="n th" textLength="23.92" lengthAdjust="spacing">Т.контр.</text>
<text transform="translate(353.40 415.40) scale(0.807 1)" style="font-size:6.4px;fill:#2a2a2a;stroke:#2a2a2a" class="n th" textLength="25.40" lengthAdjust="spacing">Н.контр.</text>
<text transform="translate(353.40 422.40) scale(0.876 1)" style="font-size:6.4px;fill:#2a2a2a;stroke:#2a2a2a" class="n th" textLength="12.56" lengthAdjust="spacing">Утв.</text>
<text transform="translate(549.30 372.10) scale(0.829 1) skewX(-5)" style="font-size:5.6px;fill:#222;stroke:#222" class="th" textLength="13.51" lengthAdjust="spacing">Лит.</text>
<text transform="translate(569.80 372.10) scale(0.908 1)" style="font-size:5.6px;fill:#2a2a2a;stroke:#2a2a2a" class="n th" textLength="17.07" lengthAdjust="spacing">Масса</text>
<text transform="translate(591.20 372.10) scale(0.951 1)" style="font-size:5.6px;fill:#2a2a2a;stroke:#2a2a2a" class="n th" textLength="24.71" lengthAdjust="spacing">Масштаб</text>
<text transform="translate(549.00 400.80) scale(0.909 1) skewX(-5)" style="font-size:5.8px;fill:#222;stroke:#222" class="th" textLength="15.40" lengthAdjust="spacing">Лист</text>
<text transform="translate(575.50 400.80) scale(0.827 1) skewX(-5)" style="font-size:5.8px;fill:#222;stroke:#222" class="th" textLength="21.77" lengthAdjust="spacing">Листов</text>
<text transform="translate(604.40 400.80) scale(0.85 1) skewX(-5)" style="font-size:5.8px;fill:#222;stroke:#222" class="th">1</text>
<text transform="translate(446.90 360.40) scale(0.8 1) skewX(-5)" style="font-size:14.2px;stroke-width:0.05px" textLength="183.62" lengthAdjust="spacing">КВТУ.125.201.04.000-01</text>
<text transform="translate(603.90 360.40) scale(0.85 1) skewX(-5)" style="font-size:14.2px;stroke-width:0.05px">Ф</text>
<text transform="translate(467.10 374.20) scale(0.85 1) skewX(-5)" style="font-size:10.2px;stroke-width:0.1px" textLength="62.59" lengthAdjust="spacing">Задание  на</text>
<text transform="translate(469.80 386.70) scale(0.85 1) skewX(-5)" style="font-size:10.2px;stroke-width:0.1px" textLength="57.53" lengthAdjust="spacing">установку</text>
<text transform="translate(466.00 398.20) scale(0.85 1) skewX(-5)" style="font-size:10.2px;stroke-width:0.1px" textLength="67.06" lengthAdjust="spacing">фундамента</text>
<text transform="translate(468.50 406.60) scale(0.7 1) skewX(-5)" style="font-size:6.6px;stroke-width:0.1px" textLength="74.57" lengthAdjust="spacing">Котел водогрейный</text>
<text transform="translate(452.20 415.00) scale(0.7 1) skewX(-5)" style="font-size:6.6px;stroke-width:0.1px" textLength="120.00" lengthAdjust="spacing">Heatexpert-КВр-1,45-КБД(К)</text>
<text transform="translate(458.80 421.90) scale(0.7 1) skewX(-5)" style="font-size:6.6px;stroke-width:0.1px" textLength="101.29" lengthAdjust="spacing">по техническому заданию</text>
<text transform="translate(545.90 388.00) scale(0.75 1)" style="font-size:10.6px;stroke-width:0.35px" class="n" textLength="5.87" lengthAdjust="spacingAndGlyphs">И</text>
<text transform="translate(575.30 385.80) scale(0.8 1)" style="font-size:9px;" class="n th" textLength="4.75" lengthAdjust="spacingAndGlyphs">–</text>
<text transform="translate(596.50 387.50) scale(0.75 1)" style="font-size:9px;stroke-width:0.25px" class="n" textLength="16.67" lengthAdjust="spacing">1:20</text>
<rect x="545.9" y="405.5" width="11.2" height="12" rx="2.2" fill="#1a1a1a"/>
<path d="M546.5 408.5q2.6 -1 5.2 0t5.2 0M546.5 411.5q2.6 -1 5.2 0t5.2 0M546.5 414.5q2.6 -1 5.2 0t5.2 0" stroke="#fff" stroke-width="0.55" fill="none"/>
<text x="558.9" y="418.2" style="font-size:17.3px;font-weight:bold;font-style:normal;fill:#111;stroke:#111;stroke-width:1.1px" textLength="25.2" lengthAdjust="spacingAndGlyphs">KVZR</text>
<text transform="translate(587.60 410.90) scale(0.7 1)" style="font-size:5.8px;fill:#333;stroke:#333" class="n th" textLength="36.29" lengthAdjust="spacing">КОТЕЛЬНЫЙ</text>
<text transform="translate(587.60 417.90) scale(0.7 1)" style="font-size:5.8px;fill:#333;stroke:#333" class="n th" textLength="36.29" lengthAdjust="spacing">ЗАВОД РЭП</text>
<text transform="translate(565.00 428.40) scale(0.75 1) skewX(-5)" style="font-size:6.2px;stroke-width:0.1px" textLength="40.40" lengthAdjust="spacing">Формат  А3</text>
</svg>
</body></html>
